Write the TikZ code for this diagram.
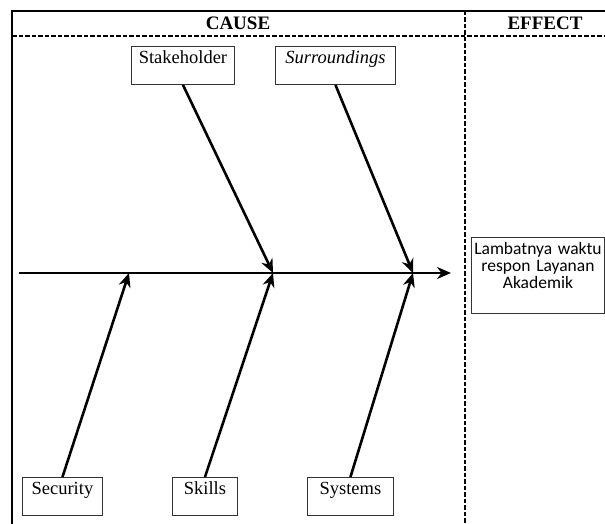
\documentclass[tikz,border=0pt]{standalone}
\usepackage{fontspec}
\setmainfont{Liberation Serif}
\newfontfamily\effectfont{Carlito}
\usetikzlibrary{arrows.meta}
\tikzset{
	catbox/.style={draw=black!80, line width=0.9pt, inner xsep=0pt, inner ysep=0pt, text height=17pt, text depth=21pt, minimum height=38pt, anchor=north west, font=\fontsize{18.5}{20}\selectfont},
	headtext/.style={anchor=base, font=\bfseries\fontsize{19}{20}\selectfont},
	bone/.style={line width=2.6pt, -{Stealth[length=14pt,width=12pt,inset=4.5pt]}},
	frame/.style={line width=2pt},
	split/.style={line width=1.5pt, dash pattern=on 4.5pt off 2pt},
}

\begin{document}
\begin{tikzpicture}[x=1pt, y=-1pt]
				%%%%% START %%%%%
				\useasboundingbox (0,0) rectangle (605,524);

				\draw[frame] (12,524) -- (12,11) -- (605,11);
				\draw[split] (12,36) -- (605,36);
				\draw[split] (465,11) -- (465,524);

				\node[headtext] (cause) at (238,30) {CAUSE};
				\node[headtext] (effecthead) at (545,30) {EFFECT};

				\node[catbox, minimum width=103pt] (stake) at (131,46) {Stakeholder};
				\node[catbox, minimum width=120pt] (surr) at (275,46) {\textit{Surroundings}};
				\node[catbox, minimum width=80pt] (sec) at (22,477) {Security};
				\node[catbox, minimum width=65pt] (skill) at (172,477) {Skills};
				\node[catbox, minimum width=86pt] (sys) at (307,477) {Systems};

				\node[draw=black!80, line width=0.9pt, anchor=north west, minimum width=133pt, text width=133pt, inner sep=0pt, align=center, text height=17pt, text depth=59pt, font=\effectfont\fontsize{17.5}{17}\selectfont] (effect) at (471,237) {Lambatnya waktu\\respon Layanan\\Akademik};

				\coordinate (tail) at (19,273);
				\coordinate (head) at (451,273);
				\coordinate (j1) at (129,273);
				\coordinate (j2) at (273,273);
				\coordinate (j3) at (413,273);

				\draw[bone] (tail) -- (head);
				\draw[bone] (stake.south) -- (j2);
				\draw[bone] (surr.south) -- (j3);
				\draw[bone] (sec.north) -- (j1);
				\draw[bone] (skill.north) -- (j2);
				\draw[bone] (sys.north) -- (j3);
				%%%%% END %%%%%
\end{tikzpicture}
\end{document}
